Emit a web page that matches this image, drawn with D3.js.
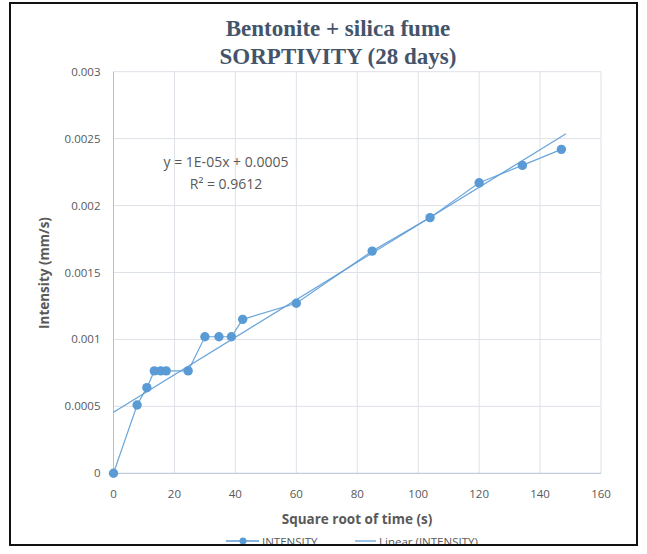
<!DOCTYPE html>
<html>
<head>
<meta charset="utf-8">
<script src="https://cdn.jsdelivr.net/npm/d3@7"></script>
<style>
  body { margin: 0; background: #fff; }
  svg { display: block; }
</style>
</head>
<body>
<div id="chart"></div>
<script>
// sqrt of time (s) and measured intensity (mm/s)
const sqrtTime = [0, 7.75, 10.95, 13.4, 15.5, 17.3, 24.5, 30, 34.6, 38.7, 42.4, 60, 84.9, 103.9, 120, 134.2, 147];
const intensity = [0, 0.00051, 0.00064, 0.000765, 0.000765, 0.000765, 0.000765, 0.00102, 0.00102, 0.00102, 0.00115, 0.00127, 0.00166, 0.00191, 0.00217, 0.0023, 0.00242];
const xTicks = [0, 20, 40, 60, 80, 100, 120, 140, 160];
const yTicks = [0, 0.0005, 0.001, 0.0015, 0.002, 0.0025, 0.003];
const titleLines = ['Bentonite + silica fume', 'SORPTIVITY (28 days)'];
const equation = ['y = 1E-05x + 0.0005', 'R\u00B2 = 0.9612'];

const width = 647, height = 554;
const blue = '#5b9bd5';
const textGrey = '#595959';

const svg = d3.select('#chart').append('svg')
  .attr('width', width)
  .attr('height', height);

const x = d3.scaleLinear().domain([0, 160]).range([113.5, 601]);
const y = d3.scaleLinear().domain([0, 0.003]).range([473.3, 71.7]);

const data = sqrtTime.map((t, i) => ({ x: t, y: intensity[i] }));

// least squares trendline
const mx = d3.mean(data, d => d.x), my = d3.mean(data, d => d.y);
const slope = d3.sum(data, d => (d.x - mx) * (d.y - my)) / d3.sum(data, d => (d.x - mx) ** 2);
const intercept = my - slope * mx;

svg.append('clipPath').attr('id', 'frame')
  .append('rect').attr('x', 11).attr('y', 4).attr('width', 625).attr('height', 540);

const g = svg.append('g').attr('clip-path', 'url(#frame)');

// gridlines
g.append('g').selectAll('line.h')
  .data(yTicks.filter(d => d > 0))
  .enter().append('line')
  .attr('x1', x(0)).attr('x2', x(160))
  .attr('y1', d => y(d)).attr('y2', d => y(d))
  .attr('stroke', '#dde1e8').attr('stroke-width', 1);

g.append('g').selectAll('line.v')
  .data(xTicks.filter(d => d > 0))
  .enter().append('line')
  .attr('x1', d => x(d)).attr('x2', d => x(d))
  .attr('y1', y(0)).attr('y2', y(0.003))
  .attr('stroke', '#dde1e8').attr('stroke-width', 1);

// axis lines
g.append('line')
  .attr('x1', x(0)).attr('x2', x(0)).attr('y1', y(0)).attr('y2', y(0.003))
  .attr('stroke', '#b4c0d0').attr('stroke-width', 1);
g.append('line')
  .attr('x1', x(0)).attr('x2', x(160)).attr('y1', y(0)).attr('y2', y(0))
  .attr('stroke', '#b4c0d0').attr('stroke-width', 1);

// tick labels
g.append('g').selectAll('text')
  .data(yTicks)
  .enter().append('text')
  .attr('x', x(0) - 13).attr('y', d => y(d) + 4)
  .attr('text-anchor', 'end')
  .attr('font-family', 'Open Sans, sans-serif').attr('font-size', 11.5)
  .attr('fill', textGrey)
  .text(d => d === 0 ? '0' : String(+d.toFixed(4)));

g.append('g').selectAll('text')
  .data(xTicks)
  .enter().append('text')
  .attr('x', d => x(d)).attr('y', y(0) + 25)
  .attr('text-anchor', 'middle')
  .attr('font-family', 'Open Sans, sans-serif').attr('font-size', 11.5)
  .attr('fill', textGrey)
  .text(d => d);

// trendline
g.append('line')
  .attr('x1', x(0)).attr('y1', y(intercept))
  .attr('x2', x(d3.max(sqrtTime) + 1.5)).attr('y2', y(intercept + slope * (d3.max(sqrtTime) + 1.5)))
  .attr('stroke', blue).attr('stroke-width', 1.2).attr('opacity', 0.9);

// data line + markers
const line = d3.line().x(d => x(d.x)).y(d => y(d.y));
g.append('path').datum(data)
  .attr('d', line)
  .attr('fill', 'none').attr('stroke', blue).attr('stroke-width', 1.2).attr('opacity', 0.9);

g.append('g').selectAll('circle')
  .data(data)
  .enter().append('circle')
  .attr('cx', d => x(d.x)).attr('cy', d => y(d.y))
  .attr('r', 4.7)
  .attr('fill', blue);

// title
g.append('g').selectAll('text')
  .data(titleLines)
  .enter().append('text')
  .attr('x', 338).attr('y', (d, i) => 36 + i * 28)
  .attr('text-anchor', 'middle')
  .attr('font-family', 'Liberation Serif, serif').attr('font-weight', 'bold')
  .attr('font-size', 23)
  .attr('fill', '#44546a')
  .text(d => d);

// equation
g.append('g').selectAll('text')
  .data(equation)
  .enter().append('text')
  .attr('x', 226).attr('y', (d, i) => 167 + i * 22)
  .attr('text-anchor', 'middle')
  .attr('font-family', 'Open Sans, sans-serif').attr('font-size', 14)
  .attr('fill', textGrey)
  .text(d => d);

// axis titles
g.append('text')
  .attr('x', 357).attr('y', 524)
  .attr('text-anchor', 'middle')
  .attr('font-family', 'Open Sans, sans-serif').attr('font-weight', 'bold').attr('font-size', 13.5)
  .attr('fill', textGrey)
  .text('Square root of time (s)');

g.append('text')
  .attr('transform', 'translate(49,273) rotate(-90)')
  .attr('text-anchor', 'middle')
  .attr('font-family', 'Open Sans, sans-serif').attr('font-weight', 'bold').attr('font-size', 13.5)
  .attr('fill', textGrey)
  .text('Intensity (mm/s)');

// legend (cut by frame)
const lg = g.append('g').attr('transform', 'translate(0,541)');
lg.append('line').attr('x1', 226).attr('x2', 259).attr('y1', 0).attr('y2', 0)
  .attr('stroke', blue).attr('stroke-width', 1.5);
lg.append('circle').attr('cx', 243).attr('cy', 0).attr('r', 3.5).attr('fill', blue);
lg.append('text').attr('x', 262).attr('y', 5)
  .attr('font-family', 'Open Sans, sans-serif').attr('font-size', 11.5).attr('fill', textGrey)
  .text('INTENSITY');
lg.append('line').attr('x1', 355).attr('x2', 376).attr('y1', 0).attr('y2', 0)
  .attr('stroke', blue).attr('stroke-width', 1.2);
lg.append('text').attr('x', 379).attr('y', 5)
  .attr('font-family', 'Open Sans, sans-serif').attr('font-size', 11.5).attr('fill', textGrey)
  .text('Linear (INTENSITY)');

// frame
svg.append('rect')
  .attr('x', 10).attr('y', 3).attr('width', 627).attr('height', 542)
  .attr('fill', 'none').attr('stroke', '#111').attr('stroke-width', 2);
</script>
</body>
</html>
